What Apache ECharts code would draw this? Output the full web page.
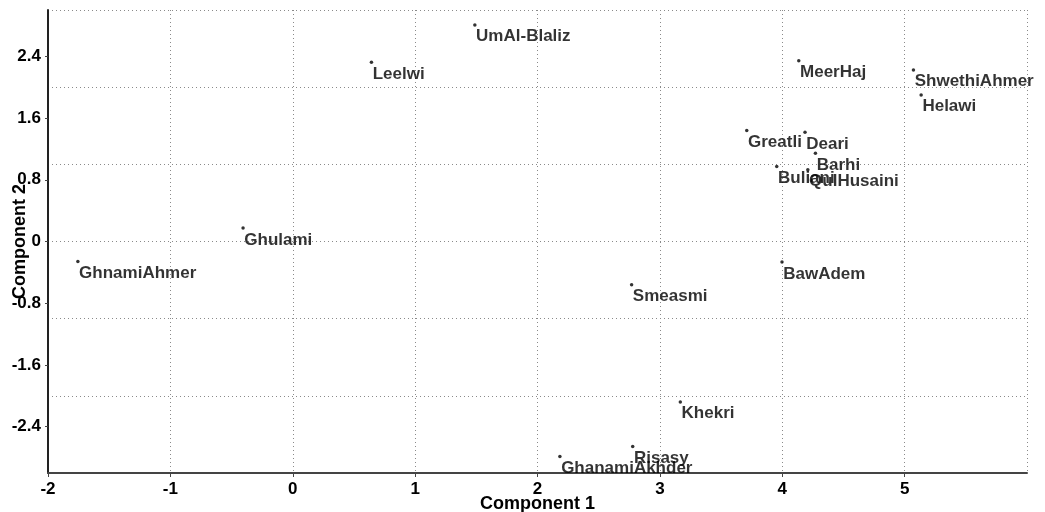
<!DOCTYPE html>
<html>
<head>
<meta charset="utf-8">
<script src="https://cdn.jsdelivr.net/npm/echarts@6/dist/echarts.min.js"></script>
<style>
  html, body { margin: 0; padding: 0; background: #fff; }
  #chart { width: 1045px; height: 512px; }
</style>
</head>
<body>
<div id="chart"></div>
<script>
// Variety names and their scores on the first two principal components
const names = ['Ghulami', 'GhnamiAhmer', 'Leelwi', 'UmAl-Blaliz', 'MeerHaj', 'ShwethiAhmer',
  'Helawi', 'Greatli', 'Deari', 'Barhi', 'Buliani', 'QulHusaini', 'Smeasmi', 'BawAdem',
  'Khekri', 'Risasy', 'GhanamiAkhder'];
const component1 = [-0.406, -1.756, 0.643, 1.488, 4.135, 5.072,
  5.135, 3.710, 4.186, 4.271, 3.955, 4.209, 2.769, 3.998,
  3.167, 2.778, 2.183];
const component2 = [0.174, -0.259, 2.324, 2.807, 2.341, 2.224,
  1.900, 1.438, 1.417, 1.145, 0.972, 0.929, -0.561, -0.267,
  -2.080, -2.655, -2.785];

// Labelled ticks on the vertical axis
const yTickValues = [-2.4, -1.6, -0.8, 0, 0.8, 1.6, 2.4];

const FONT = "'Liberation Sans', Arial, sans-serif";
const points = names.map((n, i) => [component1[i], component2[i], n]);

const gridLine = { show: true, lineStyle: { color: '#8a8a8a', width: 1, type: [1, 3] } };

const chart = echarts.init(document.getElementById('chart'), null, { renderer: 'canvas' });
chart.setOption({
  animation: false,
  backgroundColor: '#fff',
  grid: { left: 48, right: 18, top: 10, bottom: 39, containLabel: false, outerBoundsMode: 'none' },
  xAxis: {
    type: 'value',
    min: -2, max: 6, interval: 1,
    name: 'Component 1',
    nameLocation: 'middle',
    nameGap: 22,
    nameMoveOverlap: false,
    nameTextStyle: { fontFamily: FONT, fontWeight: 'bold', fontSize: 18, color: '#000', verticalAlign: 'top' },
    axisLine: { show: true, onZero: false, lineStyle: { color: '#444', width: 2 } },
    axisTick: { show: true, length: 4, lineStyle: { color: '#444', width: 1 } },
    axisLabel: { showMaxLabel: false, margin: 8, fontFamily: FONT, fontWeight: 'bold', fontSize: 17, color: '#000' },
    splitLine: gridLine
  },
  yAxis: [
    {
      type: 'value',
      min: -3, max: 3,
      name: 'Component 2',
      nameLocation: 'middle',
      nameGap: 19,
      nameRotate: 90,
      nameMoveOverlap: false,
      nameTextStyle: { fontFamily: FONT, fontWeight: 'bold', fontSize: 18, color: '#000' },
      axisLine: { show: true, onZero: false, lineStyle: { color: '#222', width: 2 } },
      axisTick: { show: true, length: 3, customValues: yTickValues, lineStyle: { color: '#444', width: 1 } },
      axisLabel: {
        customValues: yTickValues, margin: 7,
        fontFamily: FONT, fontWeight: 'bold', fontSize: 17, color: '#000',
        formatter: v => (Math.abs(v) < 1e-9 ? '0' : String(Math.round(v * 10) / 10))
      },
      splitLine: { show: false }
    },
    {
      // unit grid lines, no labels
      type: 'value',
      min: -3, max: 3, interval: 1,
      position: 'left',
      axisLine: { show: false },
      axisTick: { show: false },
      axisLabel: { show: false },
      splitLine: gridLine
    }
  ],
  series: [{
    type: 'scatter',
    yAxisIndex: 0,
    data: points,
    symbol: 'circle',
    symbolSize: 3.5,
    itemStyle: { color: '#000' },
    clip: false,
    label: {
      show: true,
      formatter: p => p.data[2],
      position: [3, 5],
      align: 'left',
      verticalAlign: 'top',
      fontFamily: FONT,
      fontWeight: 'bold',
      fontSize: 17,
      color: '#000'
    },
    emphasis: { disabled: true }
  }]
});
</script>
</body>
</html>
